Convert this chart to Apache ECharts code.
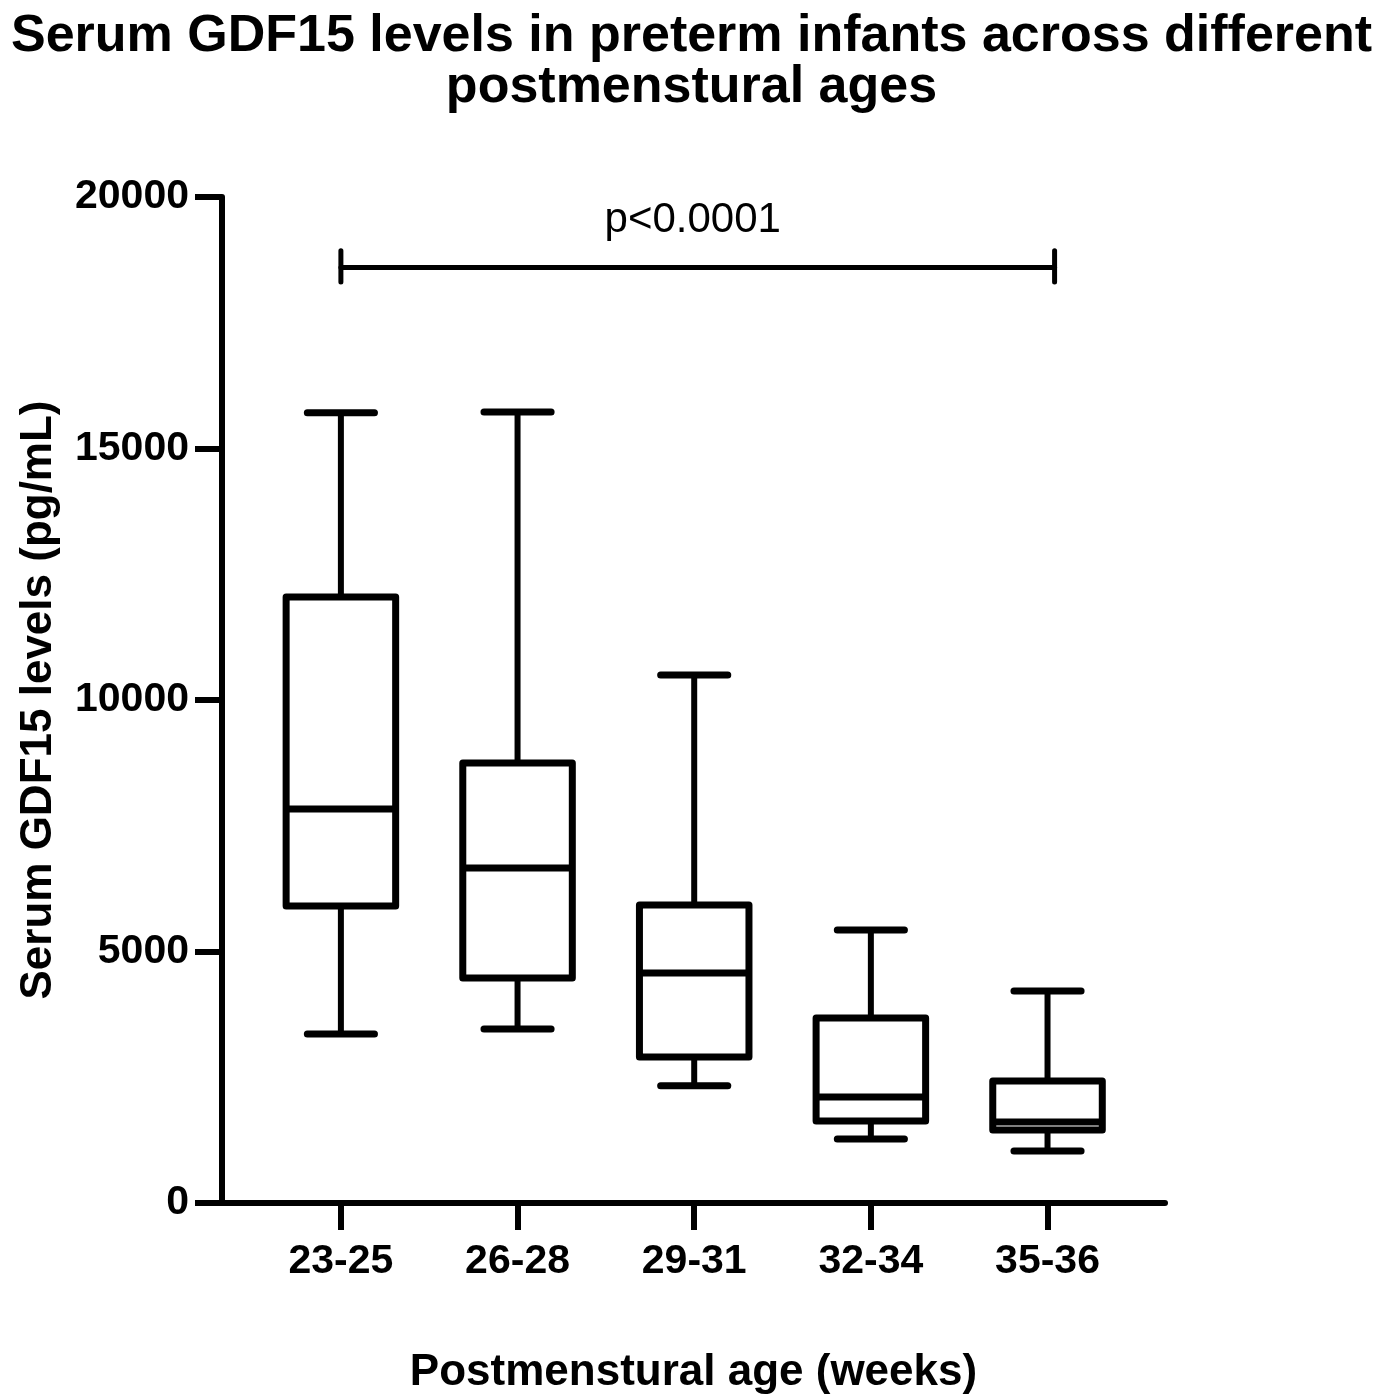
<!DOCTYPE html>
<html>
<head>
<meta charset="utf-8">
<script src="https://cdn.jsdelivr.net/npm/echarts@6/dist/echarts.min.js"></script>
<style>
html,body{margin:0;padding:0;background:#fff;}
#chart{width:1383px;height:1395px;}
</style>
</head>
<body>
<div id="chart"></div>
<script>
// ---- data ----
const categories = ['23-25', '26-28', '29-31', '32-34', '35-36'];
const whiskerMin = [3360, 3460, 2330, 1270, 1035];
const q1 = [5905, 4475, 2905, 1630, 1450];
const median = [7835, 6660, 4575, 2105, 1610];
const q3 = [12050, 8750, 5925, 3680, 2425];
const whiskerMax = [15710, 15725, 10495, 5425, 4215];
const yTicks = [0, 5000, 10000, 15000, 20000];
const bracket = { from: 0, to: 4.04, y: 18600, label: 'p<0.0001' };

const FONT = '"Liberation Sans", Arial, Helvetica, sans-serif';

const boxData = categories.map((c, i) => [i, whiskerMin[i], q1[i], median[i], q3[i], whiskerMax[i]]);

const chart = echarts.init(document.getElementById('chart'), null, { renderer: 'canvas' });

function renderBox(params, api) {
  const i = api.value(0);
  const band = api.size([1, 0])[0];
  const halfBox = band * 0.31;
  const halfCap = band * 0.19;
  const pMin = api.coord([i, api.value(1)]);
  const pQ1 = api.coord([i, api.value(2)]);
  const pMed = api.coord([i, api.value(3)]);
  const pQ3 = api.coord([i, api.value(4)]);
  const pMax = api.coord([i, api.value(5)]);
  const x = pMed[0];
  const stroke = { stroke: '#000', lineWidth: 7, lineCap: 'round', lineJoin: 'round', fill: null };
  const stem = { stroke: '#000', lineWidth: 6, lineCap: 'butt', fill: null };
  return {
    type: 'group',
    children: [
      { type: 'line', shape: { x1: x, y1: pQ3[1], x2: x, y2: pMax[1] }, style: stem },
      { type: 'line', shape: { x1: x, y1: pQ1[1], x2: x, y2: pMin[1] }, style: stem },
      { type: 'line', shape: { x1: x - halfCap, y1: pMax[1], x2: x + halfCap, y2: pMax[1] }, style: stroke },
      { type: 'line', shape: { x1: x - halfCap, y1: pMin[1], x2: x + halfCap, y2: pMin[1] }, style: stroke },
      { type: 'rect', shape: { x: x - halfBox, y: pQ3[1], width: halfBox * 2, height: pQ1[1] - pQ3[1] },
        style: { stroke: '#000', lineWidth: 7, lineJoin: 'round', fill: '#fff' } },
      { type: 'line', shape: { x1: x - halfBox, y1: pMed[1], x2: x + halfBox, y2: pMed[1] }, style: { stroke: '#000', lineWidth: 7, lineCap: 'butt' } }
    ]
  };
}

function renderBracket(params, api) {
  const a = api.coord([api.value(0), api.value(2)]);
  const b = api.coord([api.value(1), api.value(2)]);
  const capUp = api.coord([api.value(0), api.value(2) + 330])[1];
  const capDn = api.coord([api.value(0), api.value(2) - 290])[1];
  const textY = api.coord([0, api.value(2) + 940])[1];
  const st = { stroke: '#000', lineWidth: 5, lineCap: 'round' };
  return {
    type: 'group',
    children: [
      { type: 'line', shape: { x1: a[0], y1: a[1], x2: b[0], y2: b[1] }, style: st },
      { type: 'line', shape: { x1: a[0], y1: capUp, x2: a[0], y2: capDn }, style: st },
      { type: 'line', shape: { x1: b[0], y1: capUp, x2: b[0], y2: capDn }, style: st },
      { type: 'text', style: { text: bracket.label, x: (a[0] + b[0]) / 2 - 5, y: textY, align: 'center', verticalAlign: 'middle',
        font: 'normal 42px ' + FONT, fill: '#000' } }
    ]
  };
}

chart.setOption({
  animation: false,
  backgroundColor: '#fff',
  title: {
    text: 'Serum GDF15 levels in preterm infants across different\npostmenstural ages',
    left: 'center',
    top: 6,
    textStyle: { fontFamily: FONT, fontWeight: 'bold', fontSize: 52, lineHeight: 51, color: '#000' }
  },
  grid: { left: 222, right: 218, top: 197, bottom: 192, containLabel: false, outerBoundsMode: 'none' },
  xAxis: {
    type: 'value',
    min: -0.673,
    max: 4.665,
    name: 'Postmenstural age (weeks)',
    nameLocation: 'middle',
    nameGap: 148,
    nameTextStyle: { fontFamily: FONT, fontWeight: 'bold', fontSize: 44, color: '#000', verticalAlign: 'top' },
    splitLine: { show: false },
    axisLine: { show: true, onZero: false, lineStyle: { color: '#000', width: 6 } },
    axisTick: { show: true, length: 27, customValues: [0, 1, 2, 3, 4], lineStyle: { color: '#000', width: 6 } },
    axisLabel: {
      customValues: [0, 1, 2, 3, 4],
      formatter: v => categories[Math.round(v)] || '',
      fontFamily: FONT, fontWeight: 'bold', fontSize: 41, color: '#000', margin: 38
    }
  },
  yAxis: {
    type: 'value',
    min: 0,
    max: 20000,
    interval: 5000,
    name: 'Serum GDF15 levels (pg/mL)',
    nameLocation: 'middle',
    nameRotate: 90,
    nameGap: 161,
    nameTextStyle: { fontFamily: FONT, fontWeight: 'bold', fontSize: 44, color: '#000' },
    splitLine: { show: false },
    axisLine: { show: true, onZero: false, lineStyle: { color: '#000', width: 6 } },
    axisTick: { show: true, length: 27, lineStyle: { color: '#000', width: 6 } },
    axisLabel: {
      fontFamily: FONT, fontWeight: 'bold', fontSize: 41, color: '#000', margin: 33,
      formatter: v => yTicks.indexOf(v) >= 0 ? String(v) : ''
    }
  },
  series: [
    { type: 'custom', renderItem: renderBox, data: boxData, encode: { x: 0, y: [1, 2, 3, 4, 5] }, clip: false },
    { type: 'custom', renderItem: renderBracket, data: [[bracket.from, bracket.to, bracket.y]], encode: { x: [0, 1], y: 2 }, clip: false }
  ]
});
</script>
</body>
</html>
